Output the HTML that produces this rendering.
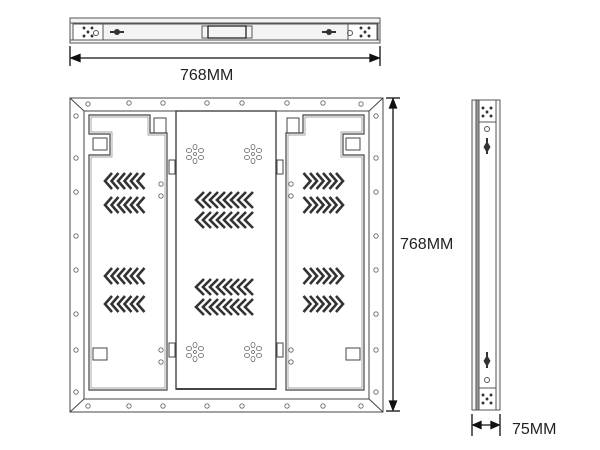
<!DOCTYPE html>
<html><head><meta charset="utf-8"><style>
html,body{margin:0;padding:0;background:#fff;width:600px;height:450px;overflow:hidden}
svg{display:block}
text{font-family:"Liberation Sans",sans-serif;font-size:16px;fill:#222}
</style></head><body>
<svg width="600" height="450" viewBox="0 0 600 450" xmlns="http://www.w3.org/2000/svg">
<defs>
<g id="cl" fill="none" stroke="#333" stroke-width="2.6">
<polyline points="7,0 0,8 7,16"/><polyline points="13.5,0 6.5,8 13.5,16"/><polyline points="20,0 13,8 20,16"/><polyline points="26.5,0 19.5,8 26.5,16"/><polyline points="33,0 26,8 33,16"/><polyline points="39.5,0 32.5,8 39.5,16"/>
</g>
<g id="cr" transform="translate(40,0) scale(-1,1)"><use href="#cl"/></g>
<g id="cc" fill="none" stroke="#333" stroke-width="2.6">
<polyline points="8,0 0,8 8,16"/><polyline points="15,0 7,8 15,16"/><polyline points="22,0 14,8 22,16"/><polyline points="29,0 21,8 29,16"/><polyline points="36,0 28,8 36,16"/><polyline points="43,0 35,8 43,16"/><polyline points="50,0 42,8 50,16"/><polyline points="57,0 49,8 57,16"/>
</g>
<g id="fl" fill="none" stroke="#666" stroke-width="0.8">
<ellipse cx="0" cy="-7" rx="2" ry="2.6"/><ellipse cx="0" cy="7" rx="2" ry="2.6"/><ellipse cx="-6" cy="-3.5" rx="2.6" ry="2"/><ellipse cx="6" cy="-3.5" rx="2.6" ry="2"/><ellipse cx="-6" cy="3.5" rx="2.6" ry="2"/><ellipse cx="6" cy="3.5" rx="2.6" ry="2"/><circle cx="0" cy="0" r="1.5"/>
</g>
<circle id="h" r="2.2" fill="none" stroke="#666" stroke-width="0.9"/>
<g id="dots" fill="#333"><circle cx="-5" cy="-5" r="1.8"/><circle cx="5" cy="-5" r="1.8"/><circle cx="0" cy="0" r="1.8"/><circle cx="-5" cy="5" r="1.8"/><circle cx="5" cy="5" r="1.8"/></g>
</defs>

<g fill="none" stroke="#555" stroke-width="1">
<rect x="70" y="18" width="310" height="25" fill="#f4f4f4"/>
<line x1="70" y1="23" x2="380" y2="23"/>
<line x1="70" y1="40" x2="380" y2="40"/>
<rect x="73" y="24" width="30" height="16" fill="#fff"/>
<rect x="348" y="24" width="30" height="16" fill="#fff"/>
<rect x="73" y="24" width="304" height="16"/>
<rect x="202" y="26" width="50" height="12"/>
<rect x="208" y="26" width="38" height="12" stroke="#222" stroke-width="1.3"/>
<circle cx="96" cy="33" r="2.5"/><circle cx="350" cy="33" r="2.5"/>
</g>
<g transform="translate(88,32)"><use href="#dots" transform="scale(0.8)"/></g>
<g transform="translate(365,32)"><use href="#dots" transform="scale(0.8)"/></g>
<g fill="#333"><rect x="110" y="31" width="14" height="2"/><circle cx="117" cy="32" r="3"/><rect x="322" y="31" width="14" height="2"/><circle cx="329" cy="32" r="3"/></g>
<g stroke="#111" stroke-width="1.3" fill="#111">
<line x1="70" y1="46" x2="70" y2="66"/><line x1="380" y1="46" x2="380" y2="66"/>
<line x1="72" y1="58" x2="378" y2="58"/>
<polygon points="71,58 80,54.5 80,61.5"/><polygon points="379,58 370,54.5 370,61.5"/>
</g>
<text x="180" y="80">768MM</text>

<g fill="none" stroke="#444" stroke-width="1">
<rect x="70" y="98" width="313" height="314"/>
<rect x="84" y="111" width="285" height="288"/>
<line x1="70" y1="98" x2="84" y2="111"/><line x1="383" y1="98" x2="369" y2="111"/>
<line x1="70" y1="412" x2="84" y2="399"/><line x1="383" y1="412" x2="369" y2="399"/>
<rect x="176" y="111" width="100" height="278" stroke-width="1.4"/>
<line x1="176" y1="389" x2="276" y2="389" stroke-width="2"/>
<path d="M89,115 H150 V133 H167 V390 H89 V155 H110 V134 H89 Z" stroke-width="1.2"/>
<path d="M91,117 H148 V135 H165 V388 H91 V157 H112 V132 H91 Z" stroke="#888" stroke-width="0.7"/>
<path d="M364,115 H303 V133 H286 V390 H364 V155 H343 V134 H364 Z" stroke-width="1.2"/>
<path d="M362,117 H305 V135 H288 V388 H362 V157 H341 V132 H362 Z" stroke="#888" stroke-width="0.7"/>
<rect x="154" y="118" width="12" height="15"/><rect x="287" y="118" width="12" height="15"/>
<rect x="93" y="138" width="14" height="12"/><rect x="346" y="138" width="14" height="12"/>
<rect x="93" y="348" width="14" height="12"/><rect x="346" y="348" width="14" height="12"/>
<rect x="169" y="160" width="6" height="14"/><rect x="277" y="160" width="6" height="14"/>
<rect x="169" y="343" width="6" height="14"/><rect x="277" y="343" width="6" height="14"/>
</g>
<g>
<use href="#h" x="88" y="104"/><use href="#h" x="129" y="103"/><use href="#h" x="163" y="103"/><use href="#h" x="207" y="103"/><use href="#h" x="242" y="103"/><use href="#h" x="287" y="103"/><use href="#h" x="323" y="103"/><use href="#h" x="361" y="104"/>
<use href="#h" x="88" y="406"/><use href="#h" x="129" y="406"/><use href="#h" x="163" y="406"/><use href="#h" x="207" y="406"/><use href="#h" x="242" y="406"/><use href="#h" x="287" y="406"/><use href="#h" x="323" y="406"/><use href="#h" x="361" y="406"/>
<use href="#h" x="76" y="116"/><use href="#h" x="76" y="158"/><use href="#h" x="76" y="192"/><use href="#h" x="76" y="236"/><use href="#h" x="76" y="270"/><use href="#h" x="76" y="314"/><use href="#h" x="76" y="350"/><use href="#h" x="76" y="392"/>
<use href="#h" x="376" y="116"/><use href="#h" x="376" y="158"/><use href="#h" x="376" y="192"/><use href="#h" x="376" y="236"/><use href="#h" x="376" y="270"/><use href="#h" x="376" y="314"/><use href="#h" x="376" y="350"/><use href="#h" x="376" y="392"/>
<use href="#h" x="161" y="184"/><use href="#h" x="161" y="196"/><use href="#h" x="291" y="184"/><use href="#h" x="291" y="196"/>
<use href="#h" x="161" y="350"/><use href="#h" x="161" y="362"/><use href="#h" x="291" y="350"/><use href="#h" x="291" y="362"/>
</g>
<use href="#fl" x="195" y="154"/><use href="#fl" x="253" y="154"/><use href="#fl" x="195" y="352"/><use href="#fl" x="253" y="352"/>
<use href="#cl" x="105" y="173"/><use href="#cl" x="105" y="197"/><use href="#cl" x="105" y="268"/><use href="#cl" x="105" y="296"/>
<use href="#cr" x="303" y="173"/><use href="#cr" x="303" y="197"/><use href="#cr" x="303" y="268"/><use href="#cr" x="303" y="296"/>
<use href="#cc" x="196" y="192"/><use href="#cc" x="196" y="212"/><use href="#cc" x="196" y="279"/><use href="#cc" x="196" y="299"/>
<g stroke="#111" stroke-width="1.3" fill="#111">
<line x1="386" y1="98" x2="400" y2="98"/><line x1="386" y1="411" x2="400" y2="411"/>
<line x1="393" y1="100" x2="393" y2="409"/>
<polygon points="393,99 389.5,108 396.5,108"/><polygon points="393,410 389.5,401 396.5,401"/>
</g>
<text x="400" y="249">768MM</text>

<g fill="none" stroke="#555" stroke-width="1">
<rect x="472" y="100" width="28" height="310" fill="#f6f6f6"/>
<rect x="476" y="100" width="3" height="310" fill="#999"/>
<rect x="479" y="100" width="17" height="310" fill="#fff"/>
<line x1="479" y1="122" x2="496" y2="122"/><line x1="479" y1="388" x2="496" y2="388"/>
<circle cx="487" cy="129" r="2.5"/><circle cx="487" cy="380" r="2.5"/>
</g>
<g transform="translate(487,112)"><use href="#dots" transform="scale(0.8)"/></g>
<g transform="translate(487,399)"><use href="#dots" transform="scale(0.8)"/></g>
<g fill="#333"><rect x="486" y="138" width="2" height="16"/><polygon points="487,141 483.5,147 487,153 490.5,147"/>
<rect x="486" y="352" width="2" height="16"/><polygon points="487,355 483.5,361 487,367 490.5,361"/></g>
<g stroke="#111" stroke-width="1.3" fill="#111">
<line x1="472" y1="414" x2="472" y2="436"/><line x1="500" y1="414" x2="500" y2="436"/>
<line x1="474" y1="425" x2="498" y2="425"/>
<polygon points="473,425 481,421.5 481,428.5"/><polygon points="499,425 491,421.5 491,428.5"/>
</g>
<text x="512" y="434">75MM</text>
</svg>
</body></html>
